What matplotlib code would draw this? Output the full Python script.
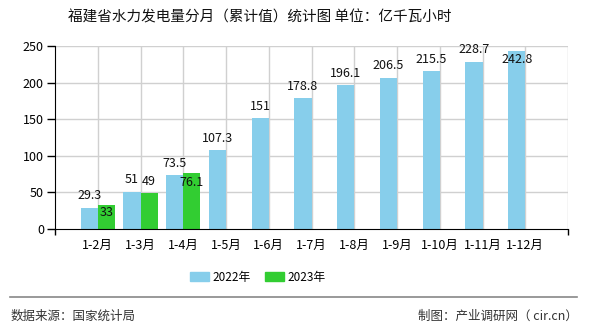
import matplotlib
matplotlib.use("Agg")
import matplotlib.pyplot as plt
import numpy as np
from matplotlib.patches import Patch
from matplotlib.lines import Line2D

plt.rcParams['font.family'] = ['Noto Sans CJK SC', 'DejaVu Sans']

months = ["1-2月", "1-3月", "1-4月", "1-5月", "1-6月", "1-7月",
          "1-8月", "1-9月", "1-10月", "1-11月", "1-12月"]
vals_2022 = [29.3, 51, 73.5, 107.3, 151, 178.8, 196.1, 206.5, 215.5, 228.7, 242.8]
vals_2023 = [33, 49, 76.1]

# vertical label offsets in pixels (positive = above bar top)
off_2022 = [12, 12, 12, 12, 12, 12, 12, 12, 12, 12, -8]
off_2023 = [-8, 12, -9]

c2022 = "#87CEEB"
c2023 = "#32CD32"

DPI = 100
fig = plt.figure(figsize=(5.9, 3.3), dpi=DPI)
ax = fig.add_axes([55 / 590, 1 - 229 / 330, 513 / 590, 183 / 330])

x = np.arange(len(months))
w = 0.4
ax.bar(x[:len(vals_2022)] - w / 2, vals_2022, w, color=c2022, zorder=2)
ax.bar(x[:len(vals_2023)] + w / 2, vals_2023, w, color=c2023, zorder=2)

px2pt = 72 / DPI
for xi, v, o in zip(x, vals_2022, off_2022):
    ax.annotate(f"{v:g}", (xi - w / 2, v), xytext=(0, o * px2pt),
                textcoords="offset points", ha="center", va="center",
                fontsize=9, color="#111111", zorder=4)
for xi, v, o in zip(x, vals_2023, off_2023):
    ax.annotate(f"{v:g}", (xi + w / 2, v), xytext=(0, o * px2pt),
                textcoords="offset points", ha="center", va="center",
                fontsize=9, color="#111111", zorder=4)

ax.set_xlim(-1, len(months))
ax.set_ylim(0, 250)
ax.set_yticks([0, 50, 100, 150, 200, 250])
ax.set_xticks(x)
ax.set_xticklabels(months, fontsize=9)
ax.set_xticks([-1, len(months)], minor=True)
ax.tick_params(axis="x", which="major", length=0, pad=7)
ax.tick_params(axis="x", which="minor", length=4, width=1, color="black")
ax.tick_params(axis="y", length=6, width=1, labelsize=9, pad=2)

# grid: horizontal at y ticks, vertical at category centres and right edge
for yv in [50, 100, 150, 200, 250]:
    ax.axhline(yv, color="#d0d0d0", lw=1, zorder=1)
for xv in list(x) + [len(months)]:
    ax.axvline(xv, color="#d0d0d0", lw=1, zorder=1)

for s in ["top", "right"]:
    ax.spines[s].set_visible(False)
ax.spines["left"].set_color("black")
ax.spines["bottom"].set_color("black")
ax.spines["left"].set_zorder(3)
ax.spines["bottom"].set_zorder(3)

fig.text(260 / 590, 1 - 17 / 330, "福建省水力发电量分月（累计值）统计图 单位：亿千瓦小时",
         ha="center", va="center", fontsize=10.5, color="#111111")

handles = [Patch(color=c2022, label="2022年"), Patch(color=c2023, label="2023年")]
fig.legend(handles=handles, loc="center", bbox_to_anchor=(258 / 590, 1 - 277 / 330),
           ncol=2, frameon=False, fontsize=8.5, handlelength=1.6, handleheight=0.7,
           handletextpad=0.3, columnspacing=1.2)

fig.add_artist(Line2D([10 / 590, 577 / 590], [1 - 297 / 330, 1 - 297 / 330],
                      color="#888888", lw=1.2, transform=fig.transFigure))
fig.text(11 / 590, 1 - 316 / 330, "数据来源：国家统计局", ha="left", va="center",
         fontsize=9, color="#333333")
fig.text(578 / 590, 1 - 316 / 330, "制图：产业调研网（ cir.cn）", ha="right", va="center",
         fontsize=9, color="#333333")

fig.savefig("out.png", dpi=DPI, facecolor="white")
